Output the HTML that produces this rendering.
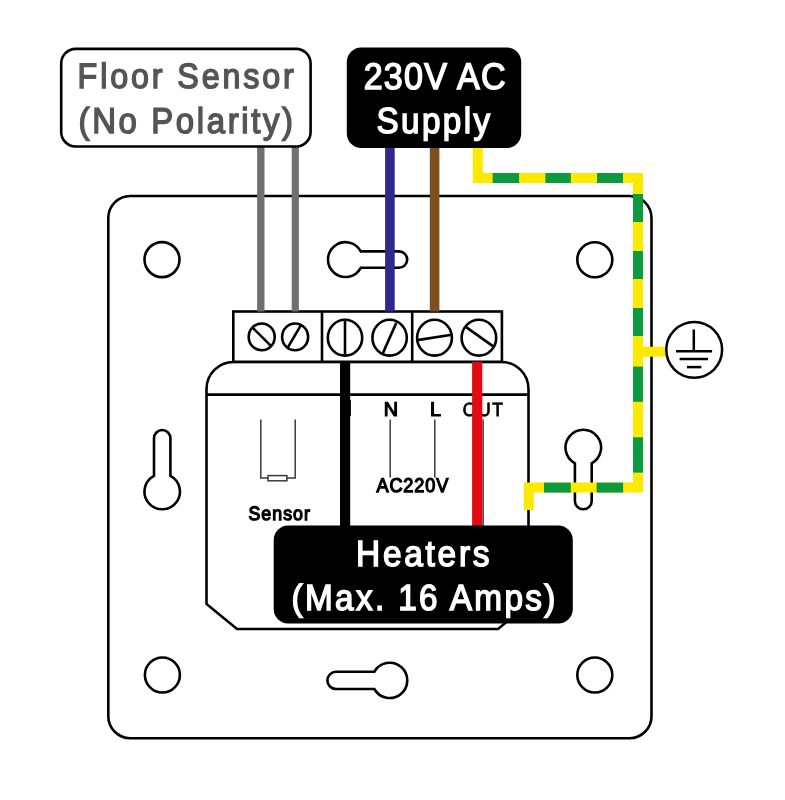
<!DOCTYPE html>
<html><head><meta charset="utf-8">
<style>
html,body{margin:0;padding:0;background:#fff;width:785px;height:800px;overflow:hidden}
svg{display:block;will-change:transform}
text{font-family:"Liberation Sans",sans-serif;text-rendering:geometricPrecision}
</style></head>
<body>
<svg width="785" height="800" viewBox="0 0 785 800">
<rect x="0" y="0" width="785" height="800" fill="#fff"/>
<g fill="none" stroke="#000" stroke-width="2.6">
  <rect x="108.3" y="196" width="543.2" height="542.2" rx="22"/>
  <circle cx="162" cy="259.6" r="17.5"/>
  <circle cx="594.8" cy="259.7" r="17.5"/>
  <circle cx="162.4" cy="675" r="17.5"/>
  <circle cx="594.8" cy="675" r="17.5"/>
  <path d="M360.75 251.4 L399 251.4 A8.2 8.2 0 0 1 399 267.8 L360.75 267.8 A17.4 17.4 0 1 1 360.75 251.4 Z"/>
  <path d="M170.4 475.9 L170.4 438.25 A8.2 8.2 0 0 0 154 438.25 L154 475.9 A17.7 17.7 0 1 0 170.4 475.9 Z"/>
  <path d="M374.3 671.8 L336 671.8 A8.6 8.6 0 0 0 336 689 L374.3 689 A17.6 17.6 0 1 0 374.3 671.8 Z"/>
  <path d="M574.9 463.3 L574.9 500.9 A8.4 8.4 0 0 0 591.7 500.9 L591.7 463.3 A17.8 17.8 0 1 0 574.9 463.3 Z"/>
  <path d="M206.5 604 L206.5 389 A27 27 0 0 1 233.5 362 L501.5 362 A27 27 0 0 1 528.5 389 L528.5 604 L498 629 L237 629 Z" fill="#fff"/>
  <line x1="206.5" y1="394.6" x2="528.5" y2="394.6"/>
  <rect x="233.3" y="311.5" width="268.6" height="50.3" fill="#fff"/>
  <line x1="322" y1="311.5" x2="322" y2="361.8"/>
  <line x1="412.2" y1="311.5" x2="412.2" y2="361.8"/>
  <ellipse cx="261.7" cy="336.9" rx="13" ry="13.4"/>
  <ellipse cx="295.1" cy="336.9" rx="13" ry="13.4"/>
  <ellipse cx="345" cy="337.7" rx="17.2" ry="17.9"/>
  <ellipse cx="389.6" cy="337.7" rx="17.2" ry="17.9"/>
  <ellipse cx="434.5" cy="337.7" rx="17.4" ry="17.9"/>
  <ellipse cx="478.9" cy="337.7" rx="17.3" ry="17.9"/>
  <line x1="252.5" y1="327.5" x2="270.9" y2="345.9"/>
  <line x1="301.4" y1="324.4" x2="288" y2="347.2"/>
  <line x1="345" y1="320.6" x2="345" y2="354.6"/>
  <line x1="396.3" y1="322.9" x2="382.9" y2="353.1"/>
  <line x1="417.3" y1="340.1" x2="451.7" y2="334.8"/>
  <line x1="466.1" y1="327.1" x2="494.7" y2="347.4"/>
</g>
<g fill="none" stroke="#3a3a3a" stroke-width="1.5">
  <polyline points="260.8,419.4 260.8,478.1 268,478.1"/>
  <polyline points="295.2,419.4 295.2,478.1 286.9,478.1"/>
  <rect x="268" y="475.6" width="18.9" height="5.2" fill="#fff"/>
  <line x1="390.2" y1="419.4" x2="390.2" y2="477.5"/>
  <line x1="434.8" y1="419.4" x2="434.8" y2="477.5"/>
  <line x1="483.1" y1="419.4" x2="483.1" y2="526"/>
</g>
<text x="0" y="0" transform="translate(383.813,415.988) scale(1.0,1)" font-size="19.873" font-weight="normal" fill="#000" stroke="#000" stroke-width="1.2" textLength="11.24" lengthAdjust="spacing">N</text>
<text x="0" y="0" transform="translate(429.894,415.988) scale(1.0,1)" font-size="19.873" font-weight="normal" fill="#000" stroke="#000" stroke-width="1.2" textLength="9.58" lengthAdjust="spacing">L</text>
<text x="0" y="0" transform="translate(462.855,415.818) scale(0.92,1)" font-size="19.102" font-weight="normal" fill="#000" stroke="#000" stroke-width="0.8" textLength="43.506" lengthAdjust="spacing">OUT</text>
<text x="0" y="0" transform="translate(376.468,492.416) scale(0.92,1)" font-size="19.747" font-weight="normal" fill="#000" stroke="#000" stroke-width="1.3" textLength="78.072" lengthAdjust="spacing">AC220V</text>
<text x="0" y="0" transform="translate(248.466,519.624) scale(0.92,1)" font-size="19.32" font-weight="normal" fill="#000" stroke="#000" stroke-width="1.3" textLength="66.818" lengthAdjust="spacing">Sensor</text>
<rect x="257.1" y="146" width="7.4" height="165.5" fill="#707070"/>
<rect x="291.7" y="146" width="7.2" height="165.5" fill="#707070"/>
<rect x="385.1" y="147" width="9.6" height="164.5" fill="#30288c"/>
<rect x="429.8" y="147" width="9.6" height="164.5" fill="#7d4f1e"/>
<rect x="340" y="361.8" width="10.2" height="165" fill="#000"/>
<rect x="349.5" y="400" width="1.4" height="16" fill="#000"/>
<rect x="472.1" y="361.8" width="10.2" height="165" fill="#e30a14"/>
<path d="M477.8 147 L477.8 178 L638 178 L638 487.6 L528.8 487.6 L528.8 510" fill="none" stroke="#ffe900" stroke-width="10" stroke-linejoin="miter"/>
<rect x="643" y="346.75" width="22.8" height="9.95" fill="#ffe900"/>
<g fill="#0b9a3e">
  <rect x="492.6" y="173" width="26.5" height="10"/>
  <rect x="545.4" y="173" width="25.4" height="10"/>
  <rect x="597" y="173" width="26" height="10"/>
  <rect x="633" y="194" width="10" height="28"/>
  <rect x="633" y="251" width="10" height="28"/>
  <rect x="633" y="308" width="10" height="28"/>
  <rect x="633" y="366.6" width="10" height="35.2"/>
  <rect x="633" y="437.3" width="10" height="35.3"/>
  <rect x="544" y="482.6" width="26.8" height="10"/>
  <rect x="596.6" y="482.6" width="26.5" height="10"/>
</g>
<g fill="#fff" stroke="#000" stroke-width="2.5">
  <circle cx="694.2" cy="349.8" r="27.9"/>
  <line x1="693.8" y1="329.5" x2="693.8" y2="351.3"/>
  <line x1="676" y1="351.3" x2="712.1" y2="351.3"/>
  <line x1="679.6" y1="359" x2="708.1" y2="359"/>
  <line x1="686.9" y1="367.1" x2="701.4" y2="367.1"/>
</g>
<rect x="61.2" y="48.9" width="249.4" height="97.6" rx="14.5" fill="#fff" stroke="#000" stroke-width="2.6"/>
<rect x="346.8" y="47.5" width="174.4" height="100.5" rx="14.5" fill="#000"/>
<rect x="273.7" y="525.4" width="299.1" height="98.1" rx="14.5" fill="#000"/>
<text x="0" y="0" transform="translate(77.617,88.286) scale(0.92,1)" font-size="35.092" font-weight="normal" fill="#555" stroke="#555" stroke-width="1.5" textLength="235.001" lengthAdjust="spacing">Floor Sensor</text>
<text x="0" y="0" transform="translate(78.551,132.726) scale(0.92,1)" font-size="35.831" font-weight="normal" fill="#555" stroke="#555" stroke-width="1.5" textLength="233.171" lengthAdjust="spacing">(No Polarity)</text>
<text x="0" y="0" transform="translate(363.67,88.786) scale(0.92,1)" font-size="37.036" font-weight="normal" fill="#fff" stroke="#fff" stroke-width="1.5" textLength="154.279" lengthAdjust="spacing">230V AC</text>
<text x="0" y="0" transform="translate(376.375,133.301) scale(0.92,1)" font-size="36.144" font-weight="normal" fill="#fff" stroke="#fff" stroke-width="1.5" textLength="123.778" lengthAdjust="spacing">Supply</text>
<text x="0" y="0" transform="translate(356.027,565.786) scale(0.92,1)" font-size="36.39" font-weight="normal" fill="#fff" stroke="#fff" stroke-width="1.5" textLength="145.098" lengthAdjust="spacing">Heaters</text>
<text x="0" y="0" transform="translate(291.56,610.286) scale(0.92,1)" font-size="36.234" font-weight="normal" fill="#fff" stroke="#fff" stroke-width="1.5" textLength="286.86" lengthAdjust="spacing">(Max. 16 Amps)</text>
</svg>
</body></html>
